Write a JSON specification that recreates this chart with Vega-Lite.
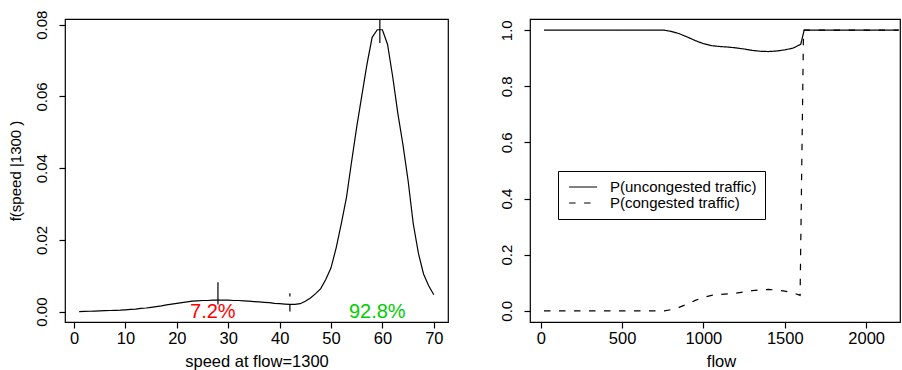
{
  "$schema": "https://vega.github.io/schema/vega-lite/v6.json",
  "padding": {"left": 7, "top": 9, "right": 0, "bottom": 0},
  "bounds": "flush",
  "spacing": 82,
  "background": "white",
  "config": {
    "font": "Liberation Sans",
    "view": {"stroke": "black", "strokeWidth": 1.2},
    "axis": {
      "domain": false, "grid": false, "ticks": true, "tickColor": "black", "tickSize": 6, "tickWidth": 1.2,
      "labelColor": "black", "titleColor": "black", "titleFontWeight": "normal",
      "labelFont": "Liberation Sans", "titleFont": "Liberation Sans"
    },
    "axisX": {"labelFontSize": 16.5, "titleFontSize": 16.5, "labelPadding": 2, "titlePadding": 6.5, "labelFlush": false},
    "axisY": {"labelFontSize": 15, "titleFontSize": 15, "labelAngle": -90, "labelAlign": "center", "labelBaseline": "bottom", "labelPadding": 10, "titlePadding": 10.5, "labelFlush": false}
  },
  "hconcat": [
    {
      "width": 383,
      "height": 303,
      "layer": [
        {
          "data": {"values": [
            {"speed": 1, "f": 0.0000}, {"speed": 2, "f": 0.00005}, {"speed": 3, "f": 0.0001}, {"speed": 4, "f": 0.00015},
            {"speed": 5, "f": 0.0002}, {"speed": 6, "f": 0.00025}, {"speed": 7, "f": 0.0003}, {"speed": 8, "f": 0.00035},
            {"speed": 9, "f": 0.0004}, {"speed": 10, "f": 0.0005}, {"speed": 11, "f": 0.0006}, {"speed": 12, "f": 0.0007},
            {"speed": 13, "f": 0.0009}, {"speed": 14, "f": 0.0010}, {"speed": 15, "f": 0.0012}, {"speed": 16, "f": 0.0014},
            {"speed": 17, "f": 0.0016}, {"speed": 18, "f": 0.0019}, {"speed": 19, "f": 0.0021}, {"speed": 20, "f": 0.0023},
            {"speed": 21, "f": 0.0025}, {"speed": 22, "f": 0.0027}, {"speed": 23, "f": 0.0029}, {"speed": 24, "f": 0.0030},
            {"speed": 25, "f": 0.0031}, {"speed": 26, "f": 0.0031}, {"speed": 27, "f": 0.0032}, {"speed": 28, "f": 0.0032},
            {"speed": 29, "f": 0.0032}, {"speed": 30, "f": 0.0032}, {"speed": 31, "f": 0.0031}, {"speed": 32, "f": 0.0031},
            {"speed": 33, "f": 0.0030}, {"speed": 34, "f": 0.0029}, {"speed": 35, "f": 0.0028}, {"speed": 36, "f": 0.0027},
            {"speed": 37, "f": 0.0026}, {"speed": 38, "f": 0.0025}, {"speed": 39, "f": 0.0023}, {"speed": 40, "f": 0.0022},
            {"speed": 41, "f": 0.0021}, {"speed": 42, "f": 0.0020}, {"speed": 43, "f": 0.0020}, {"speed": 44, "f": 0.0022},
            {"speed": 45, "f": 0.0029}, {"speed": 46, "f": 0.0038}, {"speed": 47, "f": 0.0050}, {"speed": 48, "f": 0.0064},
            {"speed": 49, "f": 0.0090}, {"speed": 50, "f": 0.0122}, {"speed": 51, "f": 0.0178}, {"speed": 52, "f": 0.0245},
            {"speed": 53, "f": 0.0318}, {"speed": 54, "f": 0.0418}, {"speed": 55, "f": 0.0515}, {"speed": 56, "f": 0.0603},
            {"speed": 57, "f": 0.0690}, {"speed": 58, "f": 0.0765}, {"speed": 59, "f": 0.0786}, {"speed": 60, "f": 0.0786},
            {"speed": 61, "f": 0.0745}, {"speed": 62, "f": 0.0655}, {"speed": 63, "f": 0.0553}, {"speed": 64, "f": 0.0465},
            {"speed": 65, "f": 0.0365}, {"speed": 66, "f": 0.0245}, {"speed": 67, "f": 0.0163}, {"speed": 68, "f": 0.0105},
            {"speed": 69, "f": 0.0072}, {"speed": 70, "f": 0.0047}
          ]},
          "mark": {"type": "line", "color": "black", "strokeWidth": 1.2, "clip": true},
          "encoding": {
            "x": {"field": "speed", "type": "quantitative", "scale": {"domain": [-1.76, 72.76], "nice": false, "zero": false},
                  "axis": {"values": [0, 10, 20, 30, 40, 50, 60, 70], "title": "speed at flow=1300"}},
            "y": {"field": "f", "type": "quantitative", "scale": {"domain": [-0.0029, 0.0816], "nice": false, "zero": false},
                  "axis": {"values": [0, 0.02, 0.04, 0.06, 0.08], "format": ".2f", "title": "f(speed |1300 )"}}
          }
        },
        {
          "data": {"values": [
            {"x": 28, "y1": 0.0020, "y2": 0.0082},
            {"x": 59.5, "y1": 0.0749, "y2": 0.0900}
          ]},
          "mark": {"type": "rule", "color": "black", "strokeWidth": 1.2, "clip": true},
          "encoding": {
            "x": {"field": "x", "type": "quantitative"},
            "y": {"field": "y1", "type": "quantitative"},
            "y2": {"field": "y2"}
          }
        },
        {
          "data": {"values": [
            {"x": 42, "y1": 0.0, "y2": 0.0051}
          ]},
          "mark": {"type": "rule", "color": "black", "strokeWidth": 1.2, "strokeDash": [6.5, 8.5], "clip": true},
          "encoding": {
            "x": {"field": "x", "type": "quantitative"},
            "y": {"field": "y1", "type": "quantitative"},
            "y2": {"field": "y2"}
          }
        },
        {
          "data": {"values": [
            {"x": 27, "y": 0.0, "label": "7.2%", "col": "red"},
            {"x": 59, "y": 0.0, "label": "92.8%", "col": "green"}
          ]},
          "mark": {"type": "text", "fontSize": 20, "font": "Liberation Sans", "align": "center", "baseline": "middle"},
          "encoding": {
            "x": {"field": "x", "type": "quantitative"},
            "y": {"field": "y", "type": "quantitative"},
            "text": {"field": "label"},
            "color": {"field": "col", "type": "nominal", "scale": {"domain": ["red", "green"], "range": ["#FF0000", "#00CD00"]}, "legend": null}
          }
        }
      ]
    },
    {
      "width": 370,
      "height": 303,
      "data": {"values": [
        {"flow": 20, "p": 1.0, "s": "P(uncongested traffic)"},
        {"flow": 400, "p": 1.0, "s": "P(uncongested traffic)"},
        {"flow": 760, "p": 1.0, "s": "P(uncongested traffic)"},
        {"flow": 800, "p": 0.996, "s": "P(uncongested traffic)"},
        {"flow": 850, "p": 0.988, "s": "P(uncongested traffic)"},
        {"flow": 900, "p": 0.976, "s": "P(uncongested traffic)"},
        {"flow": 950, "p": 0.963, "s": "P(uncongested traffic)"},
        {"flow": 1000, "p": 0.952, "s": "P(uncongested traffic)"},
        {"flow": 1050, "p": 0.945, "s": "P(uncongested traffic)"},
        {"flow": 1100, "p": 0.942, "s": "P(uncongested traffic)"},
        {"flow": 1150, "p": 0.940, "s": "P(uncongested traffic)"},
        {"flow": 1200, "p": 0.937, "s": "P(uncongested traffic)"},
        {"flow": 1250, "p": 0.933, "s": "P(uncongested traffic)"},
        {"flow": 1300, "p": 0.928, "s": "P(uncongested traffic)"},
        {"flow": 1350, "p": 0.925, "s": "P(uncongested traffic)"},
        {"flow": 1400, "p": 0.924, "s": "P(uncongested traffic)"},
        {"flow": 1450, "p": 0.926, "s": "P(uncongested traffic)"},
        {"flow": 1500, "p": 0.930, "s": "P(uncongested traffic)"},
        {"flow": 1550, "p": 0.936, "s": "P(uncongested traffic)"},
        {"flow": 1598, "p": 0.950, "s": "P(uncongested traffic)"},
        {"flow": 1619, "p": 1.0, "s": "P(uncongested traffic)"},
        {"flow": 2200, "p": 1.0, "s": "P(uncongested traffic)"},
        {"flow": 20, "p": 0.0, "s": "P(congested traffic)"},
        {"flow": 400, "p": 0.0, "s": "P(congested traffic)"},
        {"flow": 760, "p": 0.0, "s": "P(congested traffic)"},
        {"flow": 800, "p": 0.004, "s": "P(congested traffic)"},
        {"flow": 850, "p": 0.012, "s": "P(congested traffic)"},
        {"flow": 900, "p": 0.024, "s": "P(congested traffic)"},
        {"flow": 950, "p": 0.037, "s": "P(congested traffic)"},
        {"flow": 1000, "p": 0.048, "s": "P(congested traffic)"},
        {"flow": 1050, "p": 0.055, "s": "P(congested traffic)"},
        {"flow": 1100, "p": 0.058, "s": "P(congested traffic)"},
        {"flow": 1150, "p": 0.060, "s": "P(congested traffic)"},
        {"flow": 1200, "p": 0.063, "s": "P(congested traffic)"},
        {"flow": 1250, "p": 0.067, "s": "P(congested traffic)"},
        {"flow": 1300, "p": 0.072, "s": "P(congested traffic)"},
        {"flow": 1350, "p": 0.075, "s": "P(congested traffic)"},
        {"flow": 1400, "p": 0.076, "s": "P(congested traffic)"},
        {"flow": 1450, "p": 0.074, "s": "P(congested traffic)"},
        {"flow": 1500, "p": 0.070, "s": "P(congested traffic)"},
        {"flow": 1550, "p": 0.064, "s": "P(congested traffic)"},
        {"flow": 1594, "p": 0.055, "s": "P(congested traffic)"},
        {"flow": 1615, "p": 1.0, "s": "P(congested traffic)"},
        {"flow": 2200, "p": 1.0, "s": "P(congested traffic)"}
      ]},
      "mark": {"type": "line", "color": "black", "strokeWidth": 1.2, "clip": true},
      "encoding": {
        "x": {"field": "flow", "type": "quantitative", "scale": {"domain": [-66, 2208], "nice": false, "zero": false},
              "axis": {"values": [0, 500, 1000, 1500, 2000], "format": "d", "title": "flow", "titleX": 191, "titleAlign": "center"}},
        "y": {"field": "p", "type": "quantitative", "scale": {"domain": [-0.04, 1.04], "nice": false, "zero": false},
              "axis": {"values": [0, 0.2, 0.4, 0.6, 0.8, 1.0], "format": ".1f", "title": null}},
        "strokeDash": {"field": "s", "type": "nominal",
          "scale": {"domain": ["P(uncongested traffic)", "P(congested traffic)"], "range": [[1, 0], [6.5, 8.5]]},
          "legend": {"orient": "none", "legendX": 493, "legendY": 152, "title": null, "strokeColor": "black",
                     "padding": 8, "symbolType": "M-0.7,0H3.3", "symbolSize": 196, "symbolStrokeWidth": 1.2, "symbolStrokeColor": "black",
                     "labelFontSize": 15, "labelFont": "Liberation Sans", "labelColor": "black", "labelOffset": 28, "rowPadding": 0, "fillColor": "white"}
        }
      }
    }
  ]
}
